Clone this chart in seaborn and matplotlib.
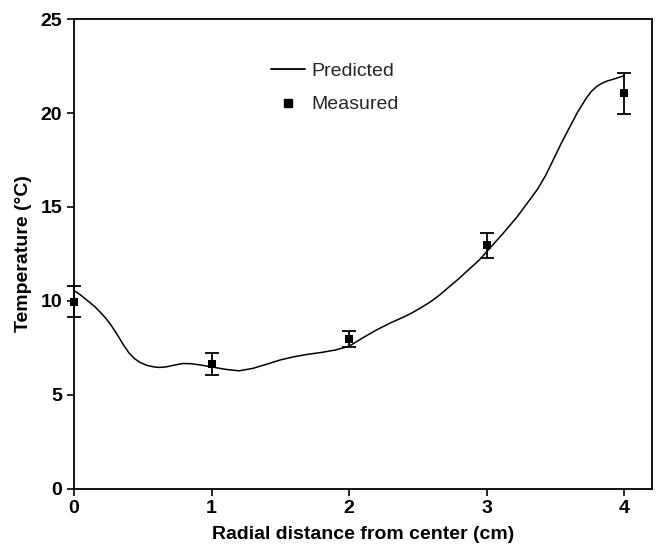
import matplotlib
matplotlib.use("Agg")
import matplotlib.pyplot as plt
import seaborn as sns
import pandas as pd
from matplotlib.lines import Line2D

# Measured temperatures with standard deviation
radius_measured = [0, 1, 2, 3, 4]
temp_measured = [9.95, 6.63, 7.98, 12.95, 21.05]
temp_error = [0.82, 0.60, 0.42, 0.65, 1.10]

# Model prediction along the radius
radius_pred = [0.00, 0.05, 0.10, 0.15, 0.19, 0.23, 0.27, 0.31, 0.36, 0.40,
               0.44, 0.48, 0.53, 0.58, 0.62, 0.67, 0.72, 0.79, 0.85, 0.92,
               1.00, 1.10, 1.20, 1.30, 1.40, 1.50, 1.60, 1.70, 1.80, 1.90,
               1.95, 2.00, 2.10, 2.20, 2.30, 2.40, 2.45, 2.52, 2.59, 2.66,
               2.72, 2.79, 2.86, 2.95, 3.03, 3.12, 3.22, 3.30, 3.37, 3.43,
               3.48, 3.54, 3.60, 3.66, 3.72, 3.76, 3.80, 3.84, 3.88, 3.94, 4.00]
temp_pred = [10.55, 10.30, 10.00, 9.70, 9.40, 9.08, 8.70, 8.25, 7.65, 7.22,
             6.92, 6.72, 6.56, 6.48, 6.45, 6.48, 6.56, 6.66, 6.65, 6.58,
             6.48, 6.35, 6.27, 6.40, 6.62, 6.85, 7.02, 7.15, 7.25, 7.38,
             7.48, 7.58, 8.03, 8.45, 8.82, 9.15, 9.33, 9.62, 9.94, 10.32,
             10.70, 11.13, 11.60, 12.20, 12.86, 13.60, 14.46, 15.25, 15.95, 16.70,
             17.45, 18.36, 19.20, 20.04, 20.75, 21.15, 21.42, 21.60, 21.72, 21.85, 22.00]

x_ticks = [0, 1, 2, 3, 4]
y_ticks = [0, 5, 10, 15, 20, 25]

sns.set_theme(style="ticks")
plt.rcParams["font.family"] = ["Liberation Sans", "DejaVu Sans"]
plt.rcParams["axes.linewidth"] = 1.3
plt.rcParams["xtick.major.width"] = 1.2
plt.rcParams["ytick.major.width"] = 1.2
plt.rcParams["xtick.major.size"] = 5
plt.rcParams["ytick.major.size"] = 5

fig = plt.figure(figsize=(6.57, 5.46), dpi=100)
ax = fig.add_axes([0.1126, 0.1053, 0.8794, 0.8594])

pred = pd.DataFrame({"r": radius_pred, "T": temp_pred})
meas = pd.DataFrame({"r": radius_measured, "T": temp_measured, "err": temp_error})

sns.lineplot(data=pred, x="r", y="T", ax=ax, color="black", linewidth=1.1,
             sort=False, estimator=None)
eb = ax.errorbar(meas["r"], meas["T"], yerr=meas["err"], fmt="none",
                 ecolor="black", elinewidth=1.3, capsize=5, capthick=1.3)
for artist in eb.lines[1] + eb.lines[2]:
    artist.set_clip_on(False)
sns.scatterplot(data=meas, x="r", y="T", ax=ax, marker="s", color="black",
                s=36, edgecolor="black", linewidth=0, zorder=5, clip_on=False)

ax.set_xlim(0, 4.2)
ax.set_ylim(0, 25)
ax.set_xticks(x_ticks)
ax.set_yticks(y_ticks)
ax.tick_params(axis="both", labelsize=14, colors="black", direction="out")
for lab in ax.get_xticklabels() + ax.get_yticklabels():
    lab.set_fontweight("bold")
for sp in ax.spines.values():
    sp.set_color("black")
    sp.set_visible(True)

ax.set_xlabel("Radial distance from center (cm)", fontsize=14,
              fontweight="bold", color="black", labelpad=6)
ax.set_ylabel("Temperature (\u00b0C)", fontsize=14, fontweight="bold",
              color="black", labelpad=6)

handles = [
    Line2D([], [], color="black", linewidth=1.3),
    Line2D([], [], color="black", marker="s", linestyle="none", markersize=6),
]
ax.legend(handles, ["Predicted", "Measured"], loc="upper left",
          bbox_to_anchor=(0.31, 0.945), frameon=False, fontsize=14,
          handlelength=1.75, handletextpad=0.35, labelspacing=0.8)

fig.savefig("out.png", dpi=100)
